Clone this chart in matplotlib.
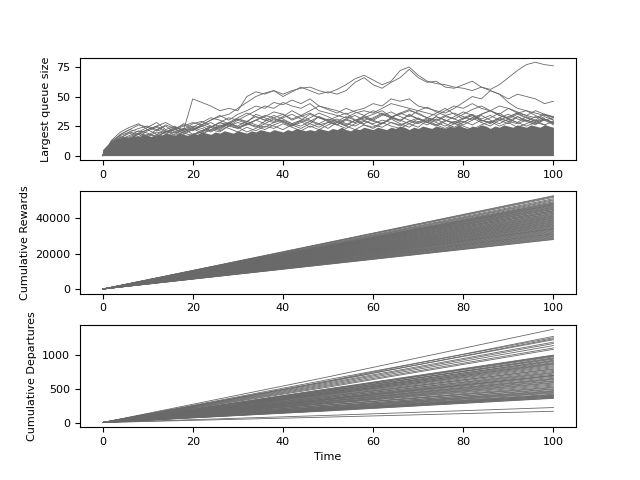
import numpy as np
import matplotlib.pyplot as plt

# time grid for the hand-read queue traces
t_q = list(range(0, 101, 2))

# upper queue traces (every 2 time units)
q1 = [0, 8, 12, 15, 14, 18, 16, 20, 22, 25, 28, 26, 30, 33, 35, 40, 45, 50, 53, 55, 52,
      55, 57, 58, 55, 53, 56, 60, 65, 68, 64, 60, 63, 72, 75, 68, 63, 61, 60, 58, 57,
      55, 58, 56, 60, 66, 72, 77, 79, 77, 76]
q2 = [0, 6, 10, 14, 12, 16, 14, 15, 18, 22, 48, 45, 42, 38, 40, 38, 50, 54, 52, 55, 50,
      54, 58, 55, 52, 54, 52, 55, 62, 66, 60, 57, 62, 66, 73, 66, 62, 63, 58, 57, 60,
      63, 58, 55, 52, 48, 52, 50, 48, 44, 46]
q3 = [0, 5, 9, 12, 15, 13, 18, 16, 20, 18, 22, 26, 30, 34, 30, 35, 38, 42, 40, 45, 43,
      47, 44, 48, 42, 40, 38, 35, 38, 40, 44, 42, 48, 46, 48, 42, 40, 38, 36, 40, 45,
      50, 48, 55, 52, 45, 40, 38, 36, 34, 33]
q4 = [0, 4, 8, 10, 12, 11, 14, 13, 16, 15, 18, 20, 24, 28, 32, 30, 34, 38, 42, 40, 45,
      42, 40, 44, 38, 36, 34, 32, 36, 38, 36, 40, 44, 42, 40, 38, 36, 34, 38, 42, 40,
      44, 40, 38, 42, 40, 36, 34, 32, 35, 30]
q5 = [0, 3, 6, 9, 12, 10, 13, 15, 12, 16, 14, 18, 22, 20, 25, 28, 26, 30, 34, 32, 35,
      30, 33, 36, 32, 30, 33, 36, 30, 32, 35, 38, 33, 35, 38, 36, 32, 30, 34, 36, 33,
      30, 35, 38, 34, 32, 36, 38, 34, 30, 32]
q6 = [0, 10, 18, 22, 26, 24, 28, 22, 25, 20, 24, 28, 32, 30, 27, 31, 29, 33, 30, 28, 32,
      35, 31, 29, 33, 30, 28, 31, 34, 30, 32, 36, 33, 30, 34, 31, 29, 33, 30, 28, 32,
      35, 31, 34, 30, 33, 36, 32, 29, 31, 28]
q7 = [0, 9, 15, 20, 18, 22, 25, 21, 19, 23, 21, 25, 28, 24, 27, 25, 29, 26, 24, 28, 30,
      27, 25, 29, 26, 28, 31, 27, 25, 29, 27, 30, 28, 26, 29, 32, 28, 26, 30, 27, 29,
      26, 30, 28, 32, 29, 27, 30, 28, 26, 29]
# middle traces
m1 = [0, 12, 18, 22, 20, 24, 21, 26, 23, 19, 22, 26, 24, 28, 25, 30, 27, 24, 29, 32, 28,
      25, 30, 27, 33, 29, 26, 31, 28, 34, 30, 27, 32, 29, 35, 31, 28, 33, 30, 27, 31,
      34, 29, 32, 36, 31, 28, 33, 30, 35, 32]
m2 = [0, 11, 16, 14, 19, 17, 22, 25, 20, 23, 18, 21, 25, 22, 27, 24, 20, 23, 27, 25, 22,
      26, 29, 24, 27, 23, 28, 25, 30, 26, 23, 27, 31, 27, 24, 29, 26, 31, 27, 24, 28,
      32, 28, 25, 30, 27, 33, 29, 26, 31, 27]
m3 = [0, 13, 20, 24, 27, 22, 25, 28, 24, 21, 25, 23, 20, 24, 27, 31, 28, 35, 32, 29, 33,
      38, 34, 30, 27, 31, 29, 26, 30, 33, 29, 27, 32, 30, 27, 31, 28, 25, 29, 33, 37,
      34, 30, 28, 32, 35, 31, 29, 33, 31, 28]
m4 = [0, 10, 14, 17, 21, 19, 16, 20, 24, 22, 27, 29, 25, 23, 28, 32, 36, 33, 30, 34, 31,
      27, 30, 35, 32, 29, 26, 30, 28, 32, 30, 34, 37, 33, 30, 28, 32, 36, 40, 35, 31,
      34, 30, 27, 31, 29, 33, 30, 27, 30, 26]
m5 = [0, 9, 13, 16, 19, 22, 18, 21, 17, 20, 23, 19, 22, 26, 23, 20, 24, 21, 25, 23, 27,
      24, 21, 25, 22, 26, 29, 25, 22, 26, 24, 28, 25, 23, 27, 24, 30, 26, 23, 27, 25,
      22, 26, 29, 25, 28, 24, 27, 30, 26, 22]
m6 = [0, 12, 17, 20, 23, 25, 22, 19, 22, 27, 24, 21, 24, 28, 26, 23, 26, 30, 27, 31, 29,
      25, 28, 32, 36, 33, 29, 33, 30, 27, 31, 35, 32, 36, 39, 35, 32, 29, 33, 31, 28,
      32, 35, 38, 34, 31, 35, 32, 29, 33, 30]
m7 = [0, 11, 15, 19, 16, 21, 24, 20, 23, 26, 22, 25, 21, 25, 28, 24, 27, 25, 22, 26, 29,
      26, 23, 27, 24, 28, 26, 23, 27, 30, 26, 24, 28, 25, 29, 27, 31, 28, 25, 29, 26,
      30, 34, 30, 27, 31, 28, 25, 28, 31, 27]
m8 = [0, 8, 12, 15, 18, 16, 20, 18, 22, 19, 17, 20, 24, 21, 25, 23, 27, 30, 33, 37, 35,
      31, 34, 38, 42, 39, 36, 40, 37, 34, 38, 35, 32, 36, 33, 38, 41, 37, 34, 31, 35,
      39, 42, 38, 35, 40, 37, 34, 38, 35, 33]
queue_traces = [q1, q2, q3, q4, q5, q6, q7, m1, m2, m3, m4, m5, m6, m7, m8]

# upper edge of the dense band of remaining traces (every time unit)
t_band = list(range(0, 101))
band = [5, 9, 12, 14, 15, 16, 15, 17, 16, 18,
        17, 16, 18, 17, 19, 18, 17, 19, 18, 17,
        19, 18, 20, 19, 18, 20, 19, 21, 20, 19,
        21, 20, 19, 21, 20, 22, 21, 20, 22, 21,
        20, 22, 21, 23, 22, 21, 22, 21, 23, 22,
        21, 23, 22, 24, 22, 21, 23, 22, 24, 23,
        22, 24, 23, 22, 24, 23, 25, 24, 22, 24,
        23, 25, 24, 23, 25, 24, 23, 25, 24, 26,
        24, 23, 25, 24, 26, 25, 23, 25, 24, 26,
        25, 24, 26, 25, 24, 26, 25, 24, 26, 25, 24]

# cumulative rewards at t=100 (lines start at 0)
reward_end = [52600, 52200, 51700, 50900, 50300, 49800, 49200, 48700, 48400, 48000, 47600,
              47400, 47000, 46600, 46200, 45900, 45500, 45100, 44800, 44300, 44000, 43600,
              43300, 42800, 42500, 42100, 41700, 41300, 41000, 40600, 40200, 39900, 39500,
              39100, 38800, 38400, 38000, 37700, 37300, 36900, 36600, 36200, 35800, 35500,
              35100, 34700, 34300, 34000, 33700, 33300, 32900, 32500, 32100, 31700, 31300,
              31000, 30600, 30200, 29800, 29400, 29000, 28600, 28200, 27900]

# cumulative departures at t=0, 50, 100
dep_start = 10
dep_mid = [680, 620, 640, 605, 615, 590, 575, 560, 545, 530, 505, 490, 500, 470, 480, 455,
           465, 435, 440, 425, 420, 395, 400, 375, 380, 365, 350, 345, 330, 320, 305, 300,
           295, 285, 270, 265, 250, 240, 238, 225, 215, 205, 200, 190, 185, 180, 115, 90,
           490, 475, 450, 450, 425, 410, 390, 360, 355, 340, 325, 315, 290, 268, 250, 232,
           222, 210, 202, 195]
dep_end = [1380, 1275, 1255, 1240, 1225, 1190, 1170, 1140, 1105, 1085, 1000, 995, 985, 960,
           950, 925, 915, 880, 870, 860, 830, 800, 790, 760, 745, 735, 700, 690, 660, 640,
           615, 600, 590, 560, 545, 520, 505, 480, 470, 450, 425, 410, 395, 380, 370, 365,
           230, 175,
           975, 940, 905, 890, 845, 815, 775, 720, 705, 675, 650, 625, 575, 530, 495, 460,
           440, 415, 400, 385]

col = 'dimgray'
lw = 0.6

fig, axs = plt.subplots(3, 1, figsize=(6.4, 4.8))
fig.subplots_adjust(hspace=0.3)

ax = axs[0]
ax.fill_between(t_band, 0, band, color=col, lw=0)
for q in queue_traces:
    ax.plot(t_q, q, color=col, lw=lw)
ax.set_ylabel('Largest queue size', fontsize=8)

ax = axs[1]
for r in reward_end:
    ax.plot([0, 100], [0, r], color=col, lw=lw)
ax.set_ylabel('Cumulative Rewards', fontsize=8)

ax = axs[2]
for m, d in zip(dep_mid, dep_end):
    ax.plot([0, 50, 100], [dep_start, m, d], color=col, lw=lw)
ax.set_ylabel('Cumulative Departures', fontsize=8)
ax.set_xlabel('Time', fontsize=8)

for ax in axs:
    ax.tick_params(labelsize=8)

fig.savefig('out.png', dpi=100)
